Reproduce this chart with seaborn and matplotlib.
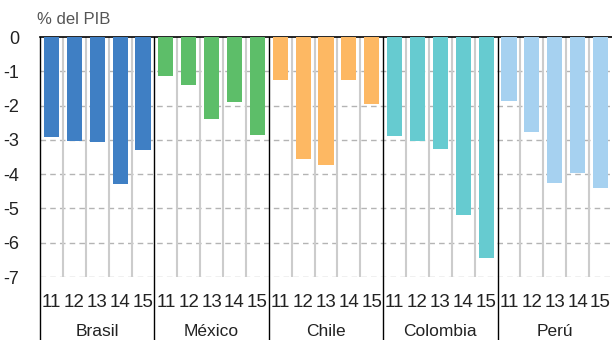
import matplotlib
matplotlib.use("Agg")
import matplotlib.pyplot as plt
import seaborn as sns
import pandas as pd
from matplotlib.transforms import blended_transform_factory

# Fiscal balance by country, % of GDP, years 2011-2015
countries = ["Brasil", "México", "Chile", "Colombia", "Perú"]
years = ["11", "12", "13", "14", "15"]
brasil = [-2.93, -3.02, -3.05, -4.30, -3.31]
mexico = [-1.15, -1.39, -2.40, -1.90, -2.85]
chile = [-1.25, -3.55, -3.72, -1.25, -1.95]
colombia = [-2.90, -3.02, -3.26, -5.18, -6.46]
peru = [-1.86, -2.76, -4.27, -3.98, -4.39]
colors = ["#3F7FC4", "#5DBE69", "#FDB863", "#66CBD0", "#A6D1F0"]

series = [brasil, mexico, chile, colombia, peru]
rows = []
for c, vals in zip(countries, series):
    for y, v in zip(years, vals):
        rows.append({"country": c, "year": y, "key": f"{c} {y}", "value": v})
df = pd.DataFrame(rows)
order = list(df["key"])

sns.set_style("white")
plt.rcParams["font.family"] = ["Liberation Sans", "DejaVu Sans"]

fig = plt.figure(figsize=(6.12, 3.40), dpi=100)
ax = fig.add_axes([40 / 612, 1 - 277 / 340, 572 / 612, 240 / 340])

sns.barplot(data=df, x="key", y="value", hue="country", order=order,
            hue_order=countries, palette=colors, dodge=False, width=0.66,
            saturation=1, legend=False, ax=ax, zorder=3, linewidth=0)

n = len(order)
ax.set_xlim(-0.5, n - 0.5)
ax.set_ylim(-7, 0)
ax.set_yticks(range(-7, 1))
ax.set_yticklabels([str(v) for v in range(-7, 1)], fontsize=13, color="#222222")
ax.tick_params(axis="y", length=0, pad=15)
ax.set_xticks(range(n))
ax.set_xticklabels(list(df["year"]), fontsize=13.5, color="#222222")
ax.tick_params(axis="x", length=0, pad=12)
ax.set_xlabel("")
ax.set_ylabel("")

# dashed horizontal grid
for v in range(-7, 0):
    ax.axhline(v, color="#b4b4b4", lw=1, ls=(0, (4, 3)), zorder=1)

# light vertical separators between years
for i in range(1, n):
    if i % 5 != 0:
        ax.axvline(i - 0.5, color="#cccccc", lw=1.5, zorder=1)

for s in ["right", "bottom", "left"]:
    ax.spines[s].set_visible(False)
ax.spines["top"].set_color("black")
ax.spines["top"].set_linewidth(1.2)

# country separators running down through the label rows
trans = blended_transform_factory(ax.transData, ax.transAxes)
bottom_frac = -(340 - 277) / 240
for g in range(0, n, 5):
    ax.plot([g - 0.5, g - 0.5], [bottom_frac, 1], color="black", lw=1,
            transform=trans, clip_on=False, zorder=4)

for gi, c in enumerate(countries):
    ax.text(gi * 5 + 2, -(331 - 277) / 240, c, transform=trans, ha="center",
            va="center", fontsize=12.5, color="#222222")

fig.text(37 / 612, 1 - 19 / 340, "% del PIB", fontsize=12, color="#555555",
         ha="left", va="center")

fig.savefig("out.png", dpi=100)
